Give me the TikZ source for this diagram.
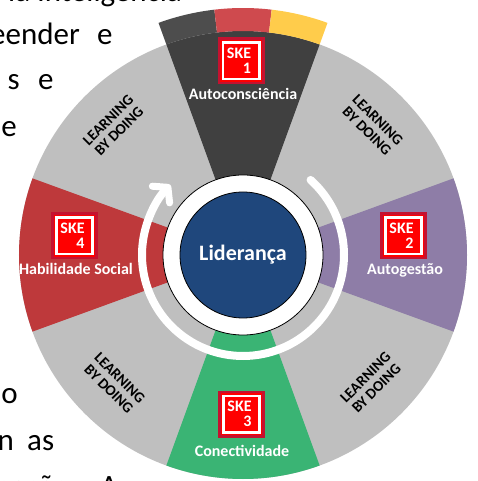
\documentclass[tikz,border=0pt]{standalone}
\usepackage{fontspec}
\setmainfont{Carlito}
\usetikzlibrary{arrows.meta}
\definecolor{wheelgray}{HTML}{BFBFBF}
\definecolor{darksec}{HTML}{404040}
\definecolor{bandgray}{HTML}{4D4D4D}
\definecolor{bandred}{HTML}{CF4A4E}
\definecolor{bandyellow}{HTML}{FFCC4B}
\definecolor{purplesec}{HTML}{8E7DA7}
\definecolor{greensec}{HTML}{3AB474}
\definecolor{redsec}{HTML}{BE393B}
\definecolor{centerblue}{HTML}{1F477C}
\definecolor{skered}{HTML}{FF0000}
\definecolor{skeborder}{HTML}{C41230}
\newcommand\skebadge[3]{%
  \node[skeouter] (#1) at (#2) {};
  \node[skeframe] (#1-frame) at (#2) {};
  \node[sketext] (#1-text) at ($(#2)+(-2,0)$) {SKE\\#3};
}
\usetikzlibrary{calc}
\begin{document}
\begin{tikzpicture}[x=1pt,y=1pt,
  bodytext/.style={font=\fontsize{31}{37}\selectfont, inner sep=0, text=black},
  lbd/.style={font=\fontsize{15}{15.5}\selectfont\bfseries, align=center, inner sep=0, text=black},
  seclabel/.style={font=\fontsize{16}{18}\selectfont\bfseries, inner sep=0, text=white, anchor=base},
  skeouter/.style={rectangle, minimum size=44.3, fill=skered, draw=skeborder, line width=2.7, inner sep=0},
  skeframe/.style={rectangle, minimum size=36.3, draw=white, line width=2.7, inner sep=0},
  sketext/.style={font=\fontsize{16}{15}\selectfont\bfseries, align=right, inner sep=0, text=white},
  cyclearrow/.style={draw=white, line width=8, line cap=round, -{Straight Barb[length=10pt,width=24pt,round,line width=7pt]}}
]
\useasboundingbox (-243,-226) rectangle (235,255);
% background body text fragments
\node[bodytext, anchor=base east] (t1) at (-61,253) {ia Inteligência};
\node[bodytext, anchor=base east] (t2a) at (-163,210) {eender};
\node[bodytext, anchor=base west] (t2b) at (-146,210) {e};
\node[bodytext, anchor=base east] (t3a) at (-223,165) {s};
\node[bodytext, anchor=base west] (t3b) at (-205,165) {e};
\node[bodytext, anchor=base east] (t4) at (-226,118) {le};
\node[bodytext, anchor=base east] (t5) at (-225,-148) {lo};
\node[bodytext, anchor=base east] (t6a) at (-229,-195) {n};
\node[bodytext, anchor=base west] (t6b) at (-216,-195) {as};
\node[bodytext, anchor=base east] (t7a) at (-165,-241) {formação.};
\node[bodytext, anchor=base west] (t7b) at (-143,-241) {A};
% wheel
\fill[wheelgray] (0,0) circle[radius=224];
\fill[darksec] (0,0) -- (70:224) arc[start angle=70,end angle=110,radius=224] -- cycle;
\fill[purplesec] (0,0) -- (-20:224) arc[start angle=-20,end angle=20,radius=224] -- cycle;
\fill[greensec] (0,0) -- (250:224) arc[start angle=250,end angle=290,radius=224] -- cycle;
\fill[redsec] (0,0) -- (160:224) arc[start angle=160,end angle=200,radius=224] -- cycle;
% band above top sector
\fill[bandgray] (110:224) arc[start angle=110,end angle=96.667,radius=224] -- (96.667:247) arc[start angle=96.667,end angle=110,radius=247] -- cycle;
\fill[bandred] (96.667:224) arc[start angle=96.667,end angle=83.333,radius=224] -- (83.333:247) arc[start angle=83.333,end angle=96.667,radius=247] -- cycle;
\fill[bandyellow] (83.333:224) arc[start angle=83.333,end angle=70,radius=224] -- (70:247) arc[start angle=70,end angle=83.333,radius=247] -- cycle;
% cycle arrow
\draw[cyclearrow] (48:101) arc[start angle=48,end angle=-224,radius=101];
% center
\node[circle, fill=white, draw=black, line width=0.8, minimum size=160, inner sep=0] (ring) at (0,0) {};
\node[circle, fill=centerblue, draw=black, line width=0.8, minimum size=126, inner sep=0, text=white, font=\fontsize{22}{24}\selectfont\bfseries] (lider) at (0,0) {Liderança};
% badges and labels
\skebadge{ske1}{-2,194}{1}
\node[seclabel] (l1) at (0,155) {Autoconsciência};
\skebadge{ske2}{160.5,19}{2}
\node[seclabel] (l2) at (162,-20) {Autogestão};
\skebadge{ske3}{-1.5,-159}{3}
\node[seclabel] (l3) at (-1,-201) {Conectividade};
\skebadge{ske4}{-168.5,19}{4}
\node[seclabel] (l4) at (-167,-20) {Habilidade Social};
% learning by doing
\node[lbd, rotate=45] (lbd1) at (135:183) {LEARNING\\BY DOING};
\node[lbd, rotate=-45] (lbd2) at (45:183) {LEARNING\\BY DOING};
\node[lbd, rotate=-45] (lbd3) at (225:182) {LEARNING\\BY DOING};
\node[lbd, rotate=45] (lbd4) at (315:181) {LEARNING\\BY DOING};
\end{tikzpicture}
\end{document}
